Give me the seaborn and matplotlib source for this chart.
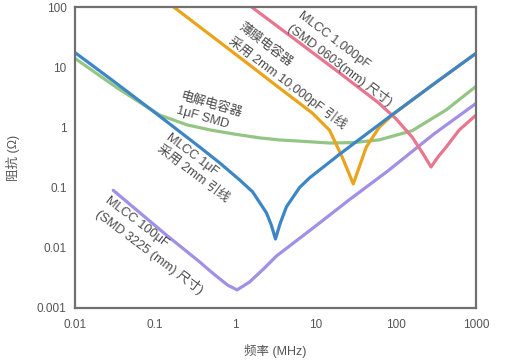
import numpy as np
import pandas as pd
import matplotlib
matplotlib.use("Agg")
import matplotlib.pyplot as plt
from matplotlib.ticker import FixedLocator, FixedFormatter, NullLocator
import seaborn as sns

# ---- data (frequency in MHz, impedance in ohm) ----
green_f = [0.01, 0.033, 0.114, 0.25, 0.5, 1, 2, 3.5, 8, 15, 30, 62, 160, 424, 1000]
green_z = [14, 4.6, 1.6, 1.1, 0.9, 0.77, 0.67, 0.62, 0.58, 0.55, 0.56, 0.62, 0.88, 1.95, 4.8]

purple_f = [0.03, 0.14, 0.36, 0.52, 0.8, 1.05, 1.5, 2.3, 3.25, 10, 26, 80, 300, 1000]
purple_z = [0.09, 0.016, 0.0058, 0.0038, 0.0024, 0.002, 0.0027, 0.0046, 0.0073, 0.023, 0.062, 0.19, 0.78, 2.5]

pink_f = [1.5, 5, 20, 60, 100, 160, 220, 275, 340, 424, 615, 1000]
pink_z = [106, 32, 8, 2.6, 1.4, 0.69, 0.36, 0.22, 0.33, 0.47, 0.9, 1.6]

orange_f = [0.15, 0.17, 1.5, 3.55, 9.1, 14.9, 21.5, 29.5, 42.8, 62, 90, 300, 1000]
orange_z = [113, 100, 10.9, 4.5, 1.73, 0.9, 0.32, 0.115, 0.47, 1.0, 1.6, 5.3, 17]

blue_f = [0.01, 0.03, 0.1, 0.36, 0.64, 1.13, 1.64, 2.44, 2.8, 3.16, 3.6, 4.33, 6.3, 8.4, 20, 50, 100, 300, 1000]
blue_z = [17.5, 5.9, 1.75, 0.47, 0.256, 0.134, 0.085, 0.038, 0.024, 0.014, 0.025, 0.048, 0.10, 0.145, 0.36, 0.9, 1.8, 5.3, 17]

x_ticks = [0.01, 0.1, 1, 10, 100, 1000]
x_labels = ["0.01", "0.1", "1", "10", "100", "1000"]
y_ticks = [0.001, 0.01, 0.1, 1, 10, 100]
y_labels = ["0.001", "0.01", "0.1", "1", "10", "100"]

labels = {
    "film": "薄膜电容器\n采用 2mm 10,000pF 引线",
    "mlcc1000p": "MLCC 1,000pF\n(SMD 0603(mm) 尺寸)",
    "elec": "电解电容器\n1μF SMD",
    "mlcc1u": "MLCC 1μF\n采用 2mm 引线",
    "mlcc100u": "MLCC 100μF\n(SMD 3225 (mm) 尺寸)",
}

sns.set_theme(style="white")
plt.rcParams["font.family"] = ["Liberation Sans", "Noto Sans CJK SC", "DejaVu Sans"]

W, H = 518, 362
fig = plt.figure(figsize=(W / 100, H / 100), dpi=100)
ax = fig.add_axes([75 / W, 1 - 308 / H, (476 - 75) / W, (308 - 7) / H])

lw = 2.3
series = [
    (green_f, green_z, "#93c684"),
    (purple_f, purple_z, "#a28fe6"),
    (pink_f, pink_z, "#e8768f"),
    (orange_f, orange_z, "#eaa41c"),
    (blue_f, blue_z, "#3d86c6"),
]
for fx, zy, col in series:
    sns.lineplot(x=fx, y=zy, ax=ax, color=col, linewidth=lw, sort=False,
                 estimator=None, legend=False)

ax.set_xscale("log")
ax.set_yscale("log")
ax.set_xlim(0.01, 1000)
ax.set_ylim(0.001, 100)

ax.xaxis.set_major_locator(FixedLocator(x_ticks))
ax.xaxis.set_major_formatter(FixedFormatter(x_labels))
ax.yaxis.set_major_locator(FixedLocator(y_ticks))
ax.yaxis.set_major_formatter(FixedFormatter(y_labels))
ax.xaxis.set_minor_locator(NullLocator())
ax.yaxis.set_minor_locator(NullLocator())

spine_col = "#707070"
for s in ax.spines.values():
    s.set_color(spine_col)
    s.set_linewidth(1.6)
ax.tick_params(axis="both", which="major", direction="in", length=5, width=1.3,
               color=spine_col, labelsize=8.5, labelcolor="#555555", pad=6)
ax.tick_params(axis="x", pad=8)

ax.set_xlabel("频率 (MHz)", fontsize=9, color="#555555", labelpad=9)
ax.set_ylabel("阻抗 (Ω)", fontsize=9, color="#555555", labelpad=12)

txt_kw = dict(fontsize=9.2, color="#4a4a4a", ha="center", va="center",
              multialignment="left", rotation_mode="anchor", linespacing=1.3,
              transform=fig.transFigure)
placements = [
    ("film", 292, 76, -37),
    ("mlcc1000p", 345, 59, -37),
    ("elec", 209.6, 112, -16),
    ("mlcc1u", 197.8, 168, -37),
    ("mlcc100u", 154, 246, -37),
]
for key, px, py, rot in placements:
    fig.text(px / W, 1 - py / H, labels[key], rotation=rot, **txt_kw)

fig.savefig("out.png", dpi=100)
